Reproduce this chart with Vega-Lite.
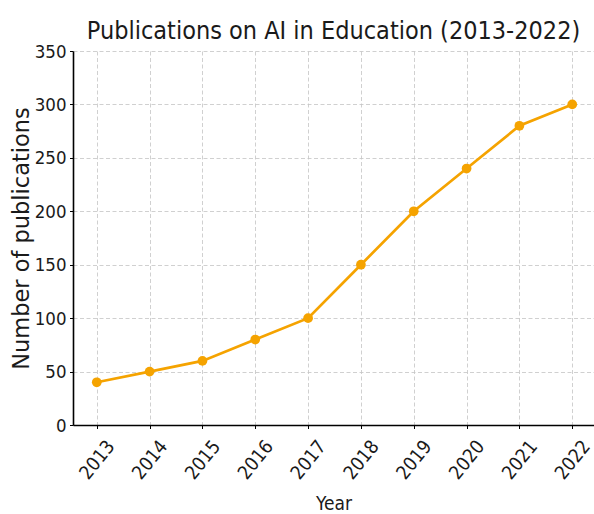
{
  "$schema": "https://vega.github.io/schema/vega-lite/v6.json",
  "width": 521,
  "height": 374,
  "autosize": {"type": "none"},
  "padding": {"left": 73, "top": 51, "right": 0, "bottom": 89},
  "background": "white",
  "title": {
    "text": "Publications on AI in Education (2013-2022)",
    "font": "DejaVu Sans Condensed",
    "fontSize": 25,
    "fontWeight": "normal",
    "color": "#1a1a1a",
    "anchor": "middle",
    "frame": "group",
    "baseline": "alphabetic",
    "offset": -22
  },
  "config": {
    "view": {"stroke": null},
    "axis": {
      "domainColor": "#000000",
      "domainWidth": 1.6,
      "tickColor": "#000000",
      "tickSize": 3.5,
      "tickWidth": 1,
      "labelFont": "DejaVu Sans Condensed",
      "labelFontSize": 18.5,
      "labelColor": "#1a1a1a",
      "titleFont": "DejaVu Sans Condensed",
      "titleFontWeight": "normal",
      "titleColor": "#1a1a1a",
      "gridColor": "#c4c4c4",
      "gridWidth": 0.8,
      "gridDash": [4, 2.5]
    }
  },
  "data": {
    "values": [
      {"Year": 2013, "Publications": 40},
      {"Year": 2014, "Publications": 50},
      {"Year": 2015, "Publications": 60},
      {"Year": 2016, "Publications": 80},
      {"Year": 2017, "Publications": 100},
      {"Year": 2018, "Publications": 150},
      {"Year": 2019, "Publications": 200},
      {"Year": 2020, "Publications": 240},
      {"Year": 2021, "Publications": 280},
      {"Year": 2022, "Publications": 300}
    ]
  },
  "encoding": {
    "x": {
      "field": "Year",
      "type": "quantitative",
      "scale": {"domain": [2012.55, 2022.412], "nice": false, "zero": false},
      "axis": {
        "title": "Year",
        "titleFontSize": 19,
        "titleBaseline": "alphabetic",
        "titleY": 84,
        "values": [2013, 2014, 2015, 2016, 2017, 2018, 2019, 2020, 2021, 2022],
        "format": "d",
        "labelAngle": -51,
        "labelAlign": "center",
        "labelBaseline": "middle",
        "labelPadding": 31,
        "labelFontSize": 19,
        "labelFlush": false,
        "labelOverlap": false,
        "grid": true
      }
    },
    "y": {
      "field": "Publications",
      "type": "quantitative",
      "scale": {"domain": [0, 350], "nice": false},
      "axis": {
        "title": "Number of publications",
        "titleFont": "DejaVu Sans",
        "titleFontSize": 22.5,
        "titleBaseline": "alphabetic",
        "titleAngle": -90,
        "titleAlign": "center",
        "titleX": -45,
        "titleY": 187,
        "values": [0, 50, 100, 150, 200, 250, 300, 350],
        "labelPadding": 3.5,
        "grid": true
      }
    }
  },
  "layer": [
    {
      "mark": {"type": "line", "color": "#f5a300", "strokeWidth": 2.7, "clip": false}
    },
    {
      "mark": {"type": "point", "filled": true, "color": "#f5a300", "opacity": 1, "size": 95, "clip": false}
    }
  ]
}
